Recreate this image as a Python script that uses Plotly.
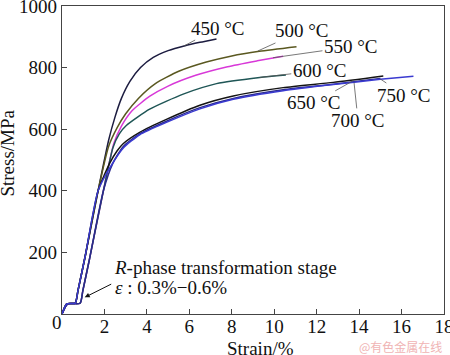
import plotly.graph_objects as go

# ---- data ----
x_ticks = [2, 4, 6, 8, 10, 12, 14, 16, 18]
y_ticks = [200, 400, 600, 800, 1000]

# elastic start, left / right group
left_start_x = [0, 0.22, 0.62, 0.75, 1.1, 1.7]
left_start_y = [0, 33, 35, 75, 190, 400]
right_start_x = [0, 0.27, 0.85, 0.98, 1.3, 1.95]
right_start_y = [0, 33, 35, 75, 180, 400]

s450_x = [2.2, 2.5, 2.8, 3.2, 3.7, 4.3, 5.0, 5.8, 6.5, 7.28]
s450_y = [565, 640, 700, 755, 800, 833, 855, 871, 882, 893]

s500_x = [2.2, 2.6, 3.0, 3.6, 4.4, 5.5, 6.8, 8.0, 9.3, 11.05]
s500_y = [545, 605, 650, 700, 748, 788, 818, 838, 853, 868]

s550_x = [2.45, 2.8, 3.3, 4.14, 5.0, 6.3, 7.8, 9.2, 10.42]
s550_y = [555, 610, 660, 707, 740, 775, 803, 822, 837]

s600_x = [2.4, 2.7, 3.03, 4.13, 5.71, 7.28, 9.32, 10.55]
s600_y = [540, 585, 612, 665, 714, 748, 768, 776]

s650_x = [2.25, 2.6, 2.88, 3.66, 4.92, 6.5, 8.07, 10.42, 12.78, 15.14]
s650_y = [490, 530, 553, 590, 632, 678, 708, 735, 752, 773]

s700_x = [2.4, 2.9, 3.66, 4.92, 6.5, 8.07, 10.42, 12.78, 15.0]
s700_y = [490, 545, 585, 626, 670, 700, 728, 746, 765]

s750_x = [2.3, 2.9, 3.66, 4.92, 6.5, 8.07, 10.42, 12.78, 15.0, 16.56]
s750_y = [480, 540, 582, 622, 666, 697, 725, 745, 762, 772]

series = [
    ("450 °C", "left", s450_x, s450_y, "#1c1c40"),
    ("500 °C", "left", s500_x, s500_y, "#5a5820"),
    ("550 °C", "right", s550_x, s550_y, "#d838d8"),
    ("600 °C", "right", s600_x, s600_y, "#1f5656"),
    ("650 °C", "left", s650_x, s650_y, "#141414"),
    ("700 °C", "right", s700_x, s700_y, "#2a2a8c"),
    ("750 °C", "left", s750_x, s750_y, "#3a3ad0"),
]

# label leader points (strain, stress) and text offsets (px)
label_pts = {
    "450 °C": (5.74, 870, 34, -18),
    "500 °C": (9.23, 854, 44, -20),
    "550 °C": (9.94, 832, 78, -11),
    "600 °C": (9.32, 768, 60, -7),
    "650 °C": (13.71, 757, -39, 22),
    "700 °C": (13.76, 752, 4, 38),
    "750 °C": (15.0, 763, 24, 16),
}

FONT = "Liberation Serif"
fig = go.Figure()
for name, grp, xs, ys, col in series:
    sx = left_start_x if grp == "left" else right_start_x
    sy = left_start_y if grp == "left" else right_start_y
    fig.add_trace(go.Scatter(
        x=sx + xs, y=sy + ys, mode="lines", name=name,
        line=dict(color=col, width=1.5, shape="spline", smoothing=0.6),
        showlegend=False, hoverinfo="skip"))

ann = []
for name, (lx, ly, ax, ay) in label_pts.items():
    ann.append(dict(x=lx, y=ly, xref="x", yref="y", text=name, showarrow=True,
                    arrowhead=0, arrowwidth=0.8, arrowcolor="#555", ax=ax, ay=ay,
                    font=dict(family=FONT, size=19, color="#111")))

ann.append(dict(x=1.07, y=54, xref="x", yref="y", text="", showarrow=True,
                arrowhead=2, arrowsize=1, arrowwidth=1, arrowcolor="#111",
                ax=28, ay=-14))
ann.append(dict(x=2.34, y=151, xref="x", yref="y", xanchor="left", yanchor="middle",
                text="<i>R</i>-phase transformation stage", showarrow=False,
                font=dict(family=FONT, size=19, color="#111")))
ann.append(dict(x=2.38, y=86, xref="x", yref="y", xanchor="left", yanchor="middle",
                text="<i>ε</i> : 0.3%\u22120.6%", showarrow=False,
                font=dict(family=FONT, size=19, color="#111")))
ann.append(dict(x=-0.013, y=-0.028, xref="paper", yref="paper", text="0",
                xanchor="center", yanchor="middle",
                showarrow=False, font=dict(family=FONT, size=19, color="#111")))
ann.append(dict(x=0.52, y=-0.112, xref="paper", yref="paper", text="Strain/%",
                xanchor="center", yanchor="middle",
                showarrow=False, font=dict(family=FONT, size=19, color="#111")))
ann.append(dict(x=-0.143, y=0.522, xref="paper", yref="paper", text="Stress/MPa",
                xanchor="center", yanchor="middle",
                textangle=-90, showarrow=False,
                font=dict(family=FONT, size=19, color="#111")))
ann.append(dict(x=1.0, y=-0.106, xref="paper", yref="paper", xanchor="right",
                yanchor="middle",
                text="@有色金属在线", showarrow=False,
                font=dict(family="Noto Sans CJK SC", size=12, color="#f0b4b4")))

axis_common = dict(showgrid=False, zeroline=False, showline=True, mirror=True,
                   linecolor="#444", linewidth=1.3, ticks="inside", ticklen=5,
                   tickwidth=1, tickcolor="#444", automargin=False,
                   ticklabeloverflow="allow",
                   tickfont=dict(family=FONT, size=19, color="#111"))

fig.update_layout(
    width=450, height=355,
    margin=dict(l=62, r=6, t=6, b=41),
    paper_bgcolor="white", plot_bgcolor="white",
    xaxis=dict(range=[0, 18], tickvals=x_ticks, ticklabelstandoff=-5, **axis_common),
    yaxis=dict(range=[0, 1000], tickvals=y_ticks, **axis_common),
    annotations=ann,
)
fig.write_html("out.html", config={"displayModeBar": False},
               post_script="document.body.style.margin='0';document.body.style.overflow='hidden';")
